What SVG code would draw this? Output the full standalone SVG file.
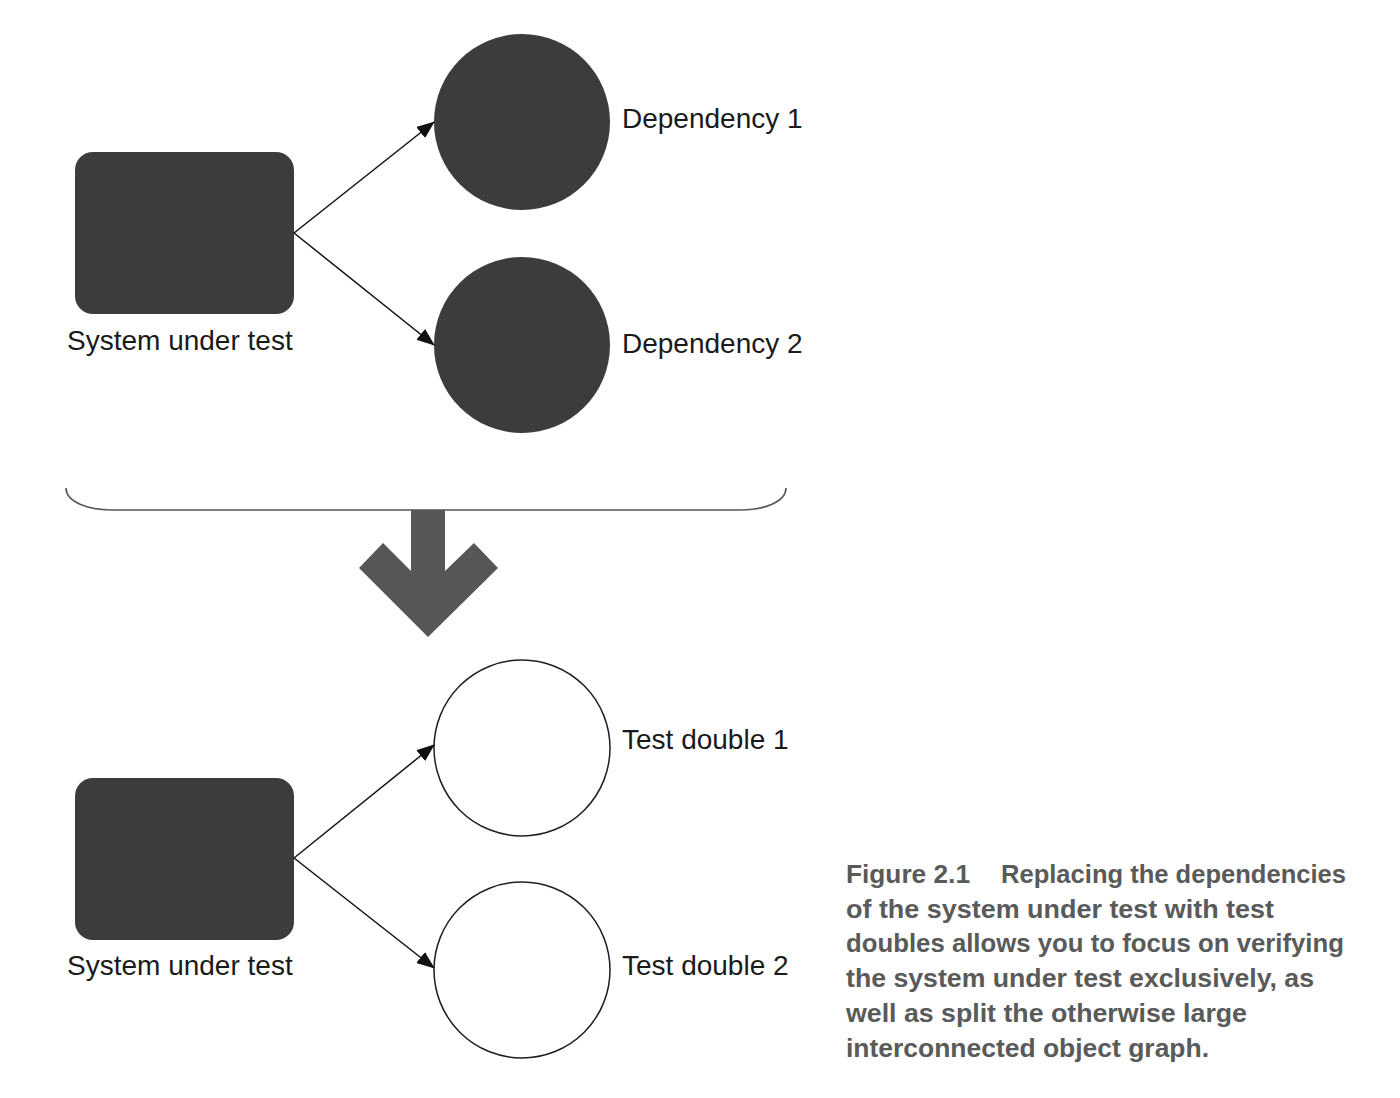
<svg xmlns="http://www.w3.org/2000/svg" width="1400" height="1098" viewBox="0 0 1400 1098">
<style>
.box{fill:#3c3c3c}
.dep{fill:#3c3c3c}
.dbl{fill:#ffffff;stroke:#1e1e1e;stroke-width:1.5}
.lbl{font-family:"Liberation Sans",Arial,sans-serif;font-size:28px;fill:#1a1a1a}
.cap{font-family:"Liberation Sans",Arial,sans-serif;font-size:26px;font-weight:bold;fill:#595a5a}
.con{stroke:#111;stroke-width:1.5;fill:none;marker-end:url(#ah)}
</style>
<defs>
<marker id="ah" markerWidth="18" markerHeight="14" refX="17" refY="7" orient="auto" markerUnits="userSpaceOnUse">
<path d="M0,0 L18,7 L0,14 Z" fill="#111"/>
</marker>
</defs>
<rect width="1400" height="1098" fill="#ffffff"/>
<g id="sut1"><rect class="box" x="75" y="152" width="219" height="162" rx="18"/><text class="lbl" x="67" y="350">System under test</text></g>
<g id="dep1"><circle class="dep" cx="522" cy="122" r="88"/><text class="lbl" x="622" y="128">Dependency 1</text></g>
<g id="dep2"><circle class="dep" cx="522" cy="345" r="88"/><text class="lbl" x="622" y="353">Dependency 2</text></g>
<g id="sut2"><rect class="box" x="75" y="778" width="219" height="162" rx="18"/><text class="lbl" x="67" y="975">System under test</text></g>
<g id="td1"><circle class="dbl" cx="522" cy="748" r="88"/><text class="lbl" x="622" y="749">Test double 1</text></g>
<g id="td2"><circle class="dbl" cx="522" cy="970" r="88"/><text class="lbl" x="622" y="975">Test double 2</text></g>
<g id="connectors">
<line class="con" x1="294" y1="233" x2="434" y2="122"/>
<line class="con" x1="294" y1="233" x2="434" y2="345"/>
<line class="con" x1="294" y1="858" x2="434" y2="745"/>
<line class="con" x1="294" y1="858" x2="434" y2="968"/>
</g>
<g id="transform">
<path d="M66,488 C66,502 88,510 112,510 L740,510 C764,510 786,502 786,488" fill="none" stroke="#555" stroke-width="1.6"/>
<polygon points="411,510 445,510 445,571 474,543 498,568 428,637 359,568 383,543 411,571" fill="#555756"/>
</g>
<g id="caption">
<text class="cap" y="883"><tspan x="846" textLength="124" lengthAdjust="spacingAndGlyphs">Figure 2.1</tspan><tspan x="1001" textLength="345" lengthAdjust="spacingAndGlyphs">Replacing the dependencies</tspan></text>
<text class="cap" x="846" y="918" textLength="428" lengthAdjust="spacingAndGlyphs">of the system under test with test</text>
<text class="cap" x="846" y="952" textLength="498" lengthAdjust="spacingAndGlyphs">doubles allows you to focus on verifying</text>
<text class="cap" x="846" y="987" textLength="468" lengthAdjust="spacingAndGlyphs">the system under test exclusively, as</text>
<text class="cap" x="846" y="1022" textLength="401" lengthAdjust="spacingAndGlyphs">well as split the otherwise large</text>
<text class="cap" x="846" y="1057" textLength="363" lengthAdjust="spacingAndGlyphs">interconnected object graph.</text>
</g>
</svg>
